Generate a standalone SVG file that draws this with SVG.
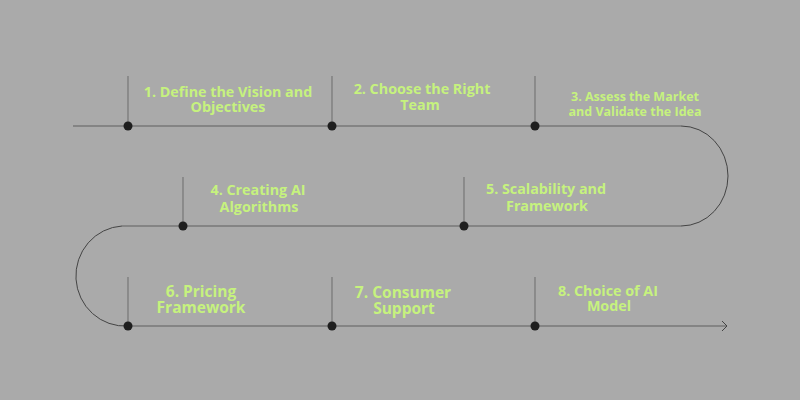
<svg xmlns="http://www.w3.org/2000/svg" width="800" height="400" viewBox="0 0 800 400">
<style>
.t{font-family:"Open Sans","Liberation Sans",sans-serif;font-weight:700;fill:#c6f27e;text-anchor:middle}
.s14{font-size:14.3px}
.s12{font-size:12.5px}
.s16{font-size:15.5px}
.tick{stroke:#767676;stroke-width:1.2}
.dot{fill:#1f1f1f}
</style>
<rect width="800" height="400" fill="#aaaaaa"/>
<g id="connectors" fill="none">
<path d="M73 126 H681" stroke="#777" stroke-width="1.3"/>
<path d="M681 126 A47 50 0 0 1 681 226" stroke="#444" stroke-width="1"/>
<path d="M681 226 H122" stroke="#777" stroke-width="1.3"/>
<path d="M122 226 A49 50 0 0 0 128 326" stroke="#444" stroke-width="1"/>
<path d="M128 326 H726" stroke="#777" stroke-width="1.3"/>
<path d="M722 321 L727 326 L722 331" stroke="#444" stroke-width="1"/>
</g>
<g id="n1"><line class="tick" x1="128" y1="76" x2="128" y2="126"/><circle class="dot" cx="128" cy="126" r="4.5"/>
<text class="t s14" x="228" y="97">1. Define the Vision and<tspan x="228" dy="15">Objectives</tspan></text></g>
<g id="n2"><line class="tick" x1="332" y1="76" x2="332" y2="126"/><circle class="dot" cx="332" cy="126" r="4.5"/>
<text class="t s14" x="422" y="94">2. Choose the Right<tspan x="420" dy="16">Team</tspan></text></g>
<g id="n3"><line class="tick" x1="535" y1="76" x2="535" y2="126"/><circle class="dot" cx="535" cy="126" r="4.5"/>
<text class="t s12" x="635" y="101">3. Assess the Market<tspan x="635" dy="15">and Validate the Idea</tspan></text></g>
<g id="n4"><line class="tick" x1="183" y1="177" x2="183" y2="226"/><circle class="dot" cx="183" cy="226" r="4.5"/>
<text class="t s14" x="258" y="195">4. Creating AI<tspan x="259" dy="17">Algorithms</tspan></text></g>
<g id="n5"><line class="tick" x1="464" y1="177" x2="464" y2="226"/><circle class="dot" cx="464" cy="226" r="4.5"/>
<text class="t s14" x="546" y="194">5. Scalability and<tspan x="547" dy="17">Framework</tspan></text></g>
<g id="n6"><line class="tick" x1="128" y1="277" x2="128" y2="326"/><circle class="dot" cx="128" cy="326" r="4.5"/>
<text class="t s16" x="201" y="297">6. Pricing<tspan x="201" dy="16">Framework</tspan></text></g>
<g id="n7"><line class="tick" x1="332" y1="277" x2="332" y2="326"/><circle class="dot" cx="332" cy="326" r="4.5"/>
<text class="t s16" x="403" y="298">7. Consumer<tspan x="404" dy="16">Support</tspan></text></g>
<g id="n8"><line class="tick" x1="535" y1="277" x2="535" y2="326"/><circle class="dot" cx="535" cy="326" r="4.5"/>
<text class="t s14" x="608" y="296">8. Choice of AI<tspan x="609" dy="15">Model</tspan></text></g>
</svg>
